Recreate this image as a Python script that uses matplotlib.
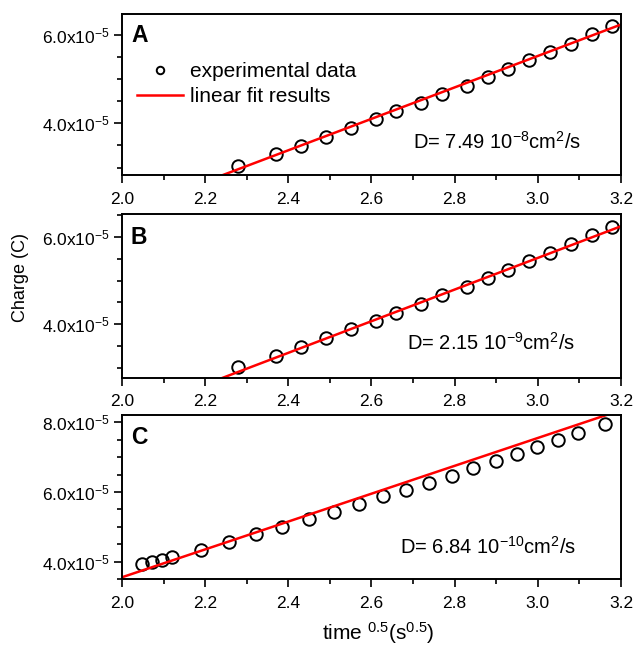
import matplotlib
matplotlib.use("Agg")
import matplotlib.pyplot as plt
from matplotlib.ticker import MultipleLocator

plt.rcParams['font.family'] = ['Liberation Sans', 'DejaVu Sans']
plt.rcParams['mathtext.fontset'] = 'custom'
plt.rcParams['mathtext.rm'] = 'Liberation Sans'
plt.rcParams['mathtext.default'] = 'regular'

# panel A data (time^0.5, charge)
xa = [2.278, 2.370, 2.430, 2.490, 2.550, 2.610, 2.660, 2.720, 2.770,
      2.829, 2.880, 2.928, 2.978, 3.029, 3.079, 3.130, 3.179]
ya = [3.04, 3.30, 3.49, 3.70, 3.89, 4.09, 4.28, 4.47, 4.66,
      4.85, 5.04, 5.23, 5.43, 5.62, 5.81, 6.02, 6.20]
fit_xa = [2.24, 3.2]
fit_ya = [2.82, 6.24]

# panel B
xb = [2.278, 2.370, 2.430, 2.490, 2.550, 2.610, 2.660, 2.720, 2.770,
      2.829, 2.880, 2.928, 2.978, 3.029, 3.079, 3.130, 3.179]
yb = [3.03, 3.28, 3.49, 3.69, 3.89, 4.08, 4.27, 4.46, 4.67,
      4.86, 5.05, 5.24, 5.44, 5.63, 5.83, 6.04, 6.23]
fit_xb = [2.24, 3.2]
fit_yb = [2.77, 6.24]

# panel C
xc = [2.047, 2.073, 2.097, 2.121, 2.189, 2.257, 2.322, 2.386, 2.450,
      2.510, 2.569, 2.627, 2.683, 2.738, 2.793, 2.845, 2.899, 2.949,
      2.997, 3.048, 3.097, 3.161]
yc = [3.93, 3.98, 4.05, 4.14, 4.34, 4.57, 4.79, 5.00, 5.23,
      5.43, 5.65, 5.87, 6.06, 6.27, 6.47, 6.68, 6.89, 7.08,
      7.28, 7.49, 7.70, 7.94]
fit_xc = [2.0, 3.2]
fit_yc = [3.55, 8.35]

panel_letters = ['A', 'B', 'C']
d_labels = [r'D= 7.49 10$^{-8}$cm$^{2}$/s',
            r'D= 2.15 10$^{-9}$cm$^{2}$/s',
            r'D= 6.84 10$^{-10}$cm$^{2}$/s']
yticks_ab = [4.0, 6.0]
yticks_c = [4.0, 6.0, 8.0]
xticks = [2.0, 2.2, 2.4, 2.6, 2.8, 3.0, 3.2]

fig = plt.figure(figsize=(6.33, 6.46), dpi=100)

boxes = [[0.1927, 0.7291, 0.7883, 0.2500],
         [0.1927, 0.4153, 0.7883, 0.2534],
         [0.1927, 0.1037, 0.7883, 0.2539]]
ylims = [(2.83, 6.49), (2.78, 6.52), (3.50, 8.21)]
dpos = [(0.583, 0.161), (0.571, 0.169), (0.557, 0.152)]
letter_y = [0.822, 0.815, 0.821]

data = [(xa, ya, fit_xa, fit_ya), (xb, yb, fit_xb, fit_yb), (xc, yc, fit_xc, fit_yc)]

for i, (x, y, fx, fy) in enumerate(data):
    ax = fig.add_axes(boxes[i])
    scale = 1e-5
    ax.plot(x, [v * scale for v in y], 'o', ms=9, mfc='none', mec='black',
            mew=1.4, label='experimental data')
    ax.plot(fx, [v * scale for v in fy], '-', color='red', lw=1.8,
            label='linear fit results')
    ax.set_xlim(2.0, 3.2)
    ax.set_ylim(ylims[i][0] * scale, ylims[i][1] * scale)
    ax.set_xticks(xticks, ['%.1f' % t for t in xticks])
    yt = yticks_c if i == 2 else yticks_ab
    ax.set_yticks([t * scale for t in yt],
                  [r'%.1fx10$^{-5}$' % t for t in yt])
    ax.xaxis.set_minor_locator(MultipleLocator(0.1))
    ax.yaxis.set_minor_locator(MultipleLocator(0.5e-5))
    ax.tick_params(which='major', length=6, width=1.2, labelsize=12.5,
                   direction='out')
    ax.tick_params(axis='y', which='major', pad=3)
    ax.tick_params(axis='x', which='major', pad=6)
    ax.tick_params(which='minor', length=3.5, width=1.2, direction='out')
    for s in ax.spines.values():
        s.set_linewidth(1.4)
    ax.text(0.018, letter_y[i], panel_letters[i], transform=ax.transAxes,
            fontsize=16.5, fontweight='bold', va='baseline')
    ax.text(dpos[i][0], dpos[i][1], d_labels[i], transform=ax.transAxes,
            fontsize=14.5, va='baseline')
    if i == 0:
        ax.legend(loc='upper left', bbox_to_anchor=(0.0, 0.79), frameon=False,
                  fontsize=15, markerscale=0.6, handlelength=2.25,
                  handletextpad=0.3, labelspacing=0.3, borderpad=0.2)

fig.text(21 / 633, 1 - 278 / 646, 'Charge (C)', rotation=90, fontsize=13,
         ha='center', va='center')
fig.text(378 / 633, 0.009, r'time $^{0.5}$(s$^{0.5}$)', fontsize=15,
         ha='center', va='baseline')

fig.savefig('out.png', dpi=100)
